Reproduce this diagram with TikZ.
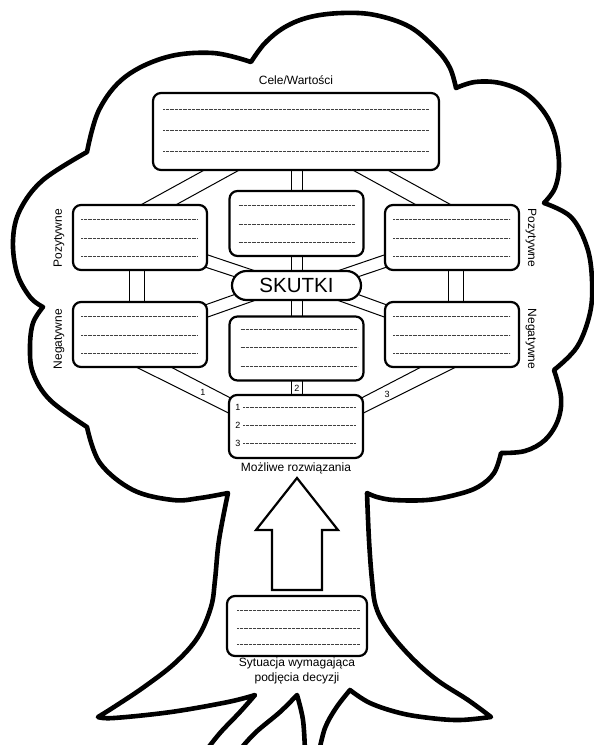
\documentclass[tikz,border=0pt]{standalone}
\usepackage{fontspec}
\setmainfont{Liberation Sans}
\usetikzlibrary{calc}
\pgfdeclarelayer{bg}
\pgfsetlayers{bg,main}
\tikzset{
  box/.style={draw, line width=2.2pt, rounded corners=8pt, fill=white, outer sep=0pt, inner sep=0pt},
  conn/.style={line width=1pt},
  dotl/.style={line width=0.7pt, dash pattern=on 0.35pt off 0.95pt, black!75},
  lab/.style={font=\fontsize{12}{14.5}\selectfont, inner sep=0pt},
  num/.style={font=\fontsize{9}{10}\selectfont, inner sep=0pt},
  outline/.style={line width=4.6pt, line join=round},
  arrowshape/.style={line width=2.2pt, line join=miter, fill=white}
}
\newcommand\dotset[4]{\foreach \yy in {#4}{\draw[dotl] ($(#1.north west)+(#2,\yy)$) -- ($(#1.north east)+(-#3,\yy)$);}}
\begin{document}
\begin{tikzpicture}[x=1pt,y=-1pt]
\useasboundingbox (0,0) rectangle (594,745);

% ---------- boxes ----------
\node[box, minimum width=286pt, minimum height=77pt] (cele) at (296,131.5) {};
\node[box, minimum width=134pt, minimum height=65pt] (lpos) at (140,237.5) {};
\node[box, minimum width=134pt, minimum height=65pt] (mpos) at (296.5,223.5) {};
\node[box, minimum width=134pt, minimum height=65pt] (rpos) at (452,237.5) {};
\node[box, minimum width=134pt, minimum height=65pt] (lneg) at (140,334.5) {};
\node[box, minimum width=134pt, minimum height=64pt] (mneg) at (296.5,348.5) {};
\node[box, minimum width=134pt, minimum height=65pt] (rneg) at (452,334.5) {};
\node[box, minimum width=134pt, minimum height=63pt] (mz) at (296,426.5) {};
\node[box, minimum width=140pt, minimum height=60pt] (syt) at (297,626) {};
\node[box, rounded corners=14.5pt, minimum width=129pt, minimum height=29pt,
      font=\fontsize{20.5}{22}\selectfont] (sk) at (296.5,285.5) {SKUTKI};

% dotted lines
\dotset{cele}{10}{10}{16,37,58}
\dotset{lpos}{8}{9}{14,33,51}
\dotset{mpos}{9}{8}{14,33,51}
\dotset{rpos}{8}{9}{14,33,51}
\dotset{lneg}{8}{9}{14,33,51}
\dotset{mneg}{11}{6}{13,31,50}
\dotset{rneg}{8}{9}{14,33,51}
\dotset{mz}{14}{8}{12,30,48}
\dotset{syt}{10}{7}{14,32,48}

% numbers in the possible-solutions box
\node[num] (m1) at ($(mz.north west)+(9,12)$) {1};
\node[num] (m2) at ($(mz.north west)+(9,30)$) {2};
\node[num] (m3) at ($(mz.north west)+(9,48)$) {3};

% ---------- labels ----------
\node[lab] (tcele) at (296,80) {Cele/Wartości};
\node[lab] (tmz) at (296,468) {Możliwe rozwiązania};
\node[lab, align=center] (tsyt) at (297,671) {Sytuacja wymagająca\\podjęcia decyzji};
\node[lab, rotate=90] (tlp) at (59,238) {Pozytywne};
\node[lab, rotate=90] (tln) at (59,339) {Negatywne};
\node[lab, rotate=-90] (trp) at (531,238) {Pozytywne};
\node[lab, rotate=-90] (trn) at (531,339) {Negatywne};

% numbers on the links
\node[num] (n1) at (203,392) {1};
\node[num] (n2) at (297,388) {2};
\node[num] (n3) at (387,394) {3};

\begin{pgfonlayer}{bg}
% Cele -> side positive boxes
\draw[conn] ($(cele.south)+(-88,-2)$) -- ($(lpos.north)+(-3,2)$);
\draw[conn] ($(cele.south)+(-53,-2)$) -- ($(lpos.north)+(32,2)$);
\draw[conn] ($(cele.south)+(88,-2)$) -- ($(rpos.north)+(3,2)$);
\draw[conn] ($(cele.south)+(53,-2)$) -- ($(rpos.north)+(-32,2)$);
% double verticals in the middle column
\foreach \dx in {-5.5,5.5}{
  \draw[conn] ($(cele.south)+(\dx+0.5,-2)$) -- ($(mpos.north)+(\dx,2)$);
  \draw[conn] ($(mpos.south)+(\dx,-2)$) -- ($(sk.north)+(\dx,2)$);
  \draw[conn] ($(sk.south)+(\dx,-2)$) -- ($(mneg.north)+(\dx,2)$);
  \draw[conn] ($(mneg.south)+(\dx,-2)$) -- ($(mz.north)+(\dx+0.5,2)$);
}
% side double verticals
\foreach \dx in {-7.5,7.5}{
  \draw[conn] ($(lpos.south)+(-3.5+\dx,-2)$) -- ($(lneg.north)+(-3.5+\dx,2)$);
  \draw[conn] ($(rpos.south)+(3.5+\dx,-2)$) -- ($(rneg.north)+(3.5+\dx,2)$);
}
% side boxes -> SKUTKI
\draw[conn] ($(lpos.south east)+(-2,-16)$) -- ($(sk.center)+(-32,-11.5)$);
\draw[conn] ($(lpos.south east)+(-2,-3)$) -- ($(sk.center)+(-52,-5.5)$);
\draw[conn] ($(rpos.south west)+(2,-16)$) -- ($(sk.center)+(32,-11.5)$);
\draw[conn] ($(rpos.south west)+(2,-3)$) -- ($(sk.center)+(52,-5.5)$);
\draw[conn] ($(lneg.north east)+(-2,16)$) -- ($(sk.center)+(-32,11.5)$);
\draw[conn] ($(lneg.north east)+(-2,3)$) -- ($(sk.center)+(-52,5.5)$);
\draw[conn] ($(rneg.north west)+(2,16)$) -- ($(sk.center)+(32,11.5)$);
\draw[conn] ($(rneg.north west)+(2,3)$) -- ($(sk.center)+(52,5.5)$);
% negative boxes -> possible solutions (1 and 3)
\draw[conn] ($(lneg.south)+(-8,-2)$) -- ($(mz.north west)+(11,23.7)$);
\draw[conn] ($(lneg.south)+(27,-2)$) -- ($(mz.north west)+(11,7.9)$);
\draw[conn] ($(rneg.south)+(8,-2)$) -- ($(mz.north east)+(-11,23.7)$);
\draw[conn] ($(rneg.south)+(-27,-2)$) -- ($(mz.north east)+(-11,7.9)$);

% big arrow
\draw[arrowshape] (297,478) -- (338,530) -- (322,530) -- (322,590) -- (272,590) -- (272,530) -- (256,530) -- cycle;

% tree outline
\draw[outline]
  plot[smooth, tension=0.6] coordinates {(87,152) (99,110) (125,77) (167,57) (213,53) (251,62)}
  -- plot[smooth, tension=0.6] coordinates {(251,62) (265,43) (285,27) (310,17) (342,13) (375,15) (410,27) (437,50) (450,68) (456,88)}
  -- plot[smooth, tension=0.6] coordinates {(456,88) (475,82) (500,83) (525,93) (544,112) (555,135) (559,165) (555,188) (544,203)}
  -- plot[smooth, tension=0.6] coordinates {(544,203) (571,217) (587,247) (592,280) (590,313) (577,347) (554,370)}
  -- plot[smooth, tension=0.6] coordinates {(554,370) (561,397) (558,420) (545,440) (525,451) (501,453)}
  -- plot[smooth, tension=0.6] coordinates {(501,453) (494,473) (478,487) (455,495) (427,500) (394,500) (377,497) (367,493)}
  -- plot[smooth, tension=0.6] coordinates {(367,493) (369,540) (372,580) (376,607) (388,630) (411,657) (437,680) (468,700) (491,717)}
  -- plot[smooth, tension=0.6] coordinates {(491,717) (460,720) (430,718) (400,713) (370,703) (350,690)}
  -- plot[smooth, tension=0.6] coordinates {(350,690) (336,708) (325,728) (319,752)}
  -- (305,752)
  -- plot[smooth, tension=0.6] coordinates {(305,752) (303,720) (297,695)}
  -- plot[smooth, tension=0.6] coordinates {(297,695) (280,712) (255,733) (238,752)}
  -- (205,752)
  -- plot[smooth, tension=0.6] coordinates {(205,752) (220,733) (240,712) (255,695)}
  -- plot[smooth, tension=0.6] coordinates {(255,695) (228,702) (171,712) (114,718) (98,717)}
  -- plot[smooth, tension=0.6] coordinates {(98,717) (114,707) (144,687) (175,663) (198,637) (211,607) (215,580) (219,540) (228,493)}
  -- plot[smooth, tension=0.6] coordinates {(228,493) (200,498) (173,500) (133,490) (100,463) (87,427)}
  -- plot[smooth, tension=0.6] coordinates {(87,427) (50,400) (33,373) (30,347) (33,323) (43,307)}
  -- plot[smooth, tension=0.6] coordinates {(43,307) (30,297) (17,273) (13,240) (20,210) (43,180) (87,152)}
  -- cycle;
\end{pgfonlayer}
\end{tikzpicture}
\end{document}
